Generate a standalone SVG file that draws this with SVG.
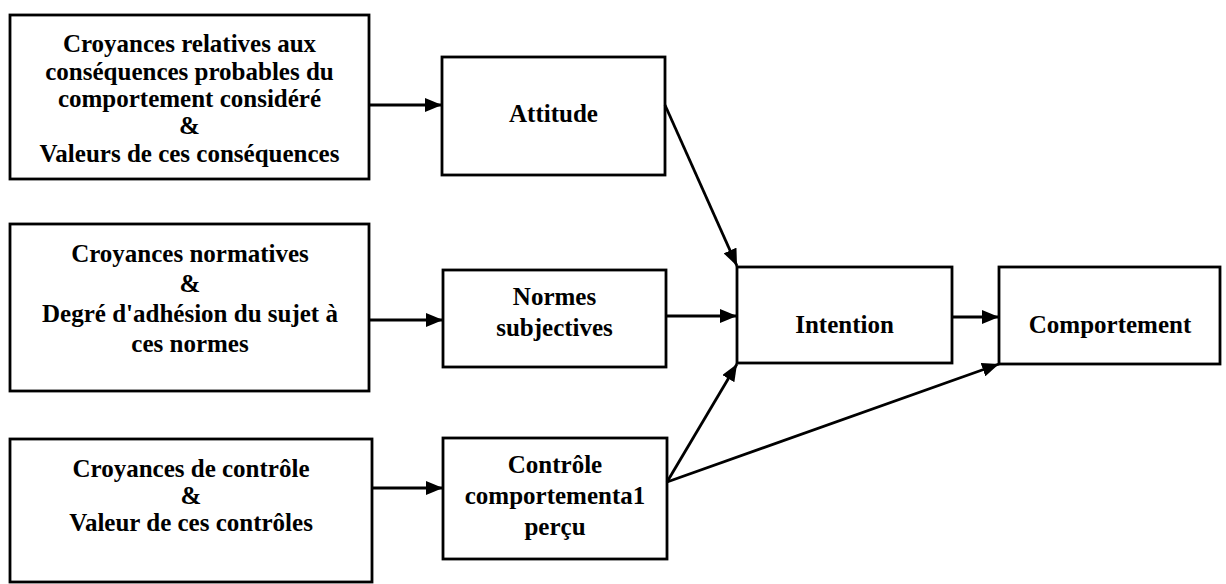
<svg xmlns="http://www.w3.org/2000/svg" width="1226" height="584" viewBox="0 0 1226 584">
<style>
.box{fill:#fff;stroke:#000;stroke-width:2.8}
.t{font-family:"Liberation Serif","Times New Roman",serif;font-weight:bold;font-size:25px;fill:#000;text-anchor:middle}
.c{fill:none;stroke:#000;stroke-width:2.8}
</style>
<defs>
<marker id="ah" markerUnits="userSpaceOnUse" markerWidth="17" markerHeight="14" refX="17" refY="7" orient="auto">
<path d="M0,0 L17,7 L0,14 z" fill="#000"/>
</marker>
</defs>
<rect width="1226" height="584" fill="#fff"/>
<g id="n_croyances_consequences">
<rect class="box" x="10" y="15" width="359" height="164"/>
<text class="t" x="189.5" y="52">Croyances relatives aux</text>
<text class="t" x="189.5" y="80">conséquences probables du</text>
<text class="t" x="189.5" y="107">comportement considéré</text>
<text class="t" x="189.5" y="134">&amp;</text>
<text class="t" x="189.5" y="162">Valeurs de ces conséquences</text>
</g>
<g id="n_croyances_normatives">
<rect class="box" x="10" y="224" width="359" height="167"/>
<text class="t" x="190" y="262">Croyances normatives</text>
<text class="t" x="190" y="292">&amp;</text>
<text class="t" x="190" y="322">Degré d'adhésion du sujet à</text>
<text class="t" x="190" y="352">ces normes</text>
</g>
<g id="n_croyances_controle">
<rect class="box" x="10" y="439" width="362" height="143"/>
<text class="t" x="191" y="477">Croyances de contrôle</text>
<text class="t" x="191" y="504">&amp;</text>
<text class="t" x="191" y="531">Valeur de ces contrôles</text>
</g>
<g id="n_attitude">
<rect class="box" x="442" y="57" width="223" height="118"/>
<text class="t" x="553.5" y="122">Attitude</text>
</g>
<g id="n_normes">
<rect class="box" x="443" y="270" width="223" height="97"/>
<text class="t" x="554.5" y="305">Normes</text>
<text class="t" x="554.5" y="336">subjectives</text>
</g>
<g id="n_controle">
<rect class="box" x="443" y="438" width="224" height="121"/>
<text class="t" x="555" y="473">Contrôle</text>
<text class="t" x="555" y="504">comportementa1</text>
<text class="t" x="555" y="535">perçu</text>
</g>
<g id="n_intention">
<rect class="box" x="737" y="267" width="215" height="96"/>
<text class="t" x="844.5" y="333">Intention</text>
</g>
<g id="n_comportement">
<rect class="box" x="999" y="267" width="221" height="97"/>
<text class="t" x="1110" y="333">Comportement</text>
</g>
<g id="connectors">
<line class="c" x1="369" y1="105" x2="442" y2="105" marker-end="url(#ah)"/>
<line class="c" x1="369" y1="320" x2="443" y2="320" marker-end="url(#ah)"/>
<line class="c" x1="372" y1="488" x2="443" y2="488" marker-end="url(#ah)"/>
<line class="c" x1="665" y1="105" x2="737" y2="266" marker-end="url(#ah)"/>
<line class="c" x1="666" y1="316" x2="737" y2="316" marker-end="url(#ah)"/>
<line class="c" x1="667" y1="482" x2="737" y2="364" marker-end="url(#ah)"/>
<line class="c" x1="667" y1="482" x2="999" y2="364" marker-end="url(#ah)"/>
<line class="c" x1="952" y1="317" x2="999" y2="317" marker-end="url(#ah)"/>
</g>
</svg>
